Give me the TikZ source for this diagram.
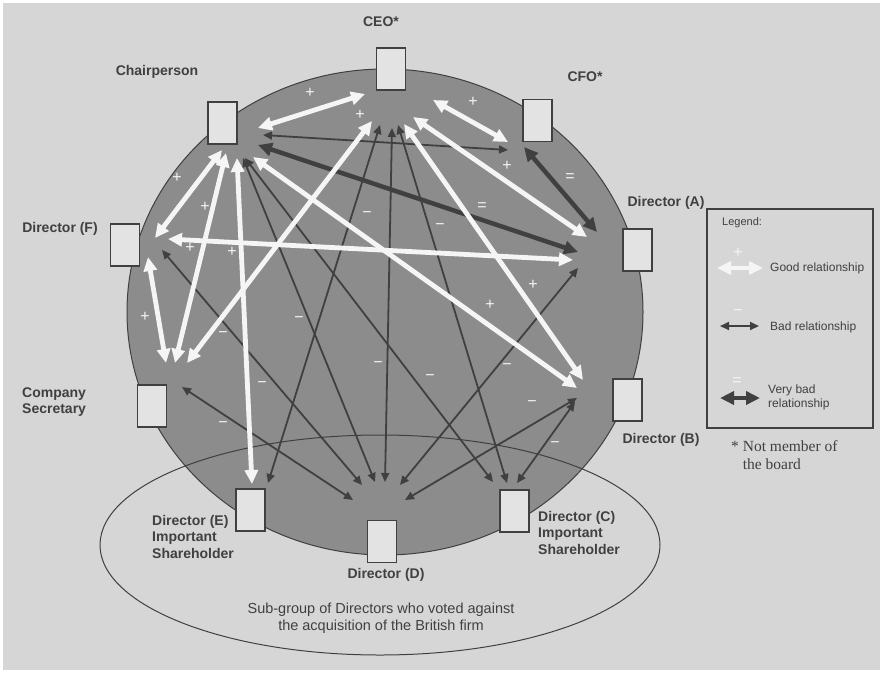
\documentclass[tikz,border=0pt]{standalone}
\usepackage{fontspec}
\setmainfont{Liberation Sans}
\newfontfamily\notefont{Liberation Serif}
\usetikzlibrary{arrows.meta,calc}

\definecolor{paper}{gray}{0.84}
\definecolor{disc}{gray}{0.55}
\definecolor{ink}{gray}{0.25}
\definecolor{cardfill}{gray}{0.89}
\definecolor{goodline}{gray}{0.96}

\begin{document}
\begin{tikzpicture}[x=1pt,y=-1pt,
  member/.style={draw=ink, line width=1.3pt, fill=cardfill, minimum width=29pt, minimum height=42pt, inner sep=0pt},
  role/.style={font=\bfseries\fontsize{14}{16.5}\selectfont, text=ink, align=left, inner sep=0pt},
  good/.style={draw=goodline, line width=4.8pt, {Triangle[length=14pt,width=13pt]}-{Triangle[length=14pt,width=13pt]}},
  bad/.style={draw=ink, line width=1.8pt, {Triangle[length=9pt,width=8pt]}-{Triangle[length=9pt,width=8pt]}},
  worse/.style={draw=ink, line width=4.5pt, {Triangle[length=14pt,width=13pt]}-{Triangle[length=14pt,width=13pt]}},
  sign/.style={text=goodline, font=\fontsize{16}{16}\selectfont, inner sep=0pt},
  legendtext/.style={font=\fontsize{12}{14}\selectfont, text=ink, anchor=west, align=left, inner sep=0pt}
]
% paper and frame
\fill[white] (0,0) rectangle (883,673);
\fill[paper] (3,3) rectangle (880,670);
\useasboundingbox (0,0) rectangle (883,673);

% the board and the dissenting sub-group
\draw[ink, line width=1pt, fill=disc] (385,312) ellipse [x radius=258, y radius=243];
\draw[ink, line width=1pt] (380,545) ellipse [x radius=280, y radius=110];

% members
\node[member] (ceo) at (391,69) {};
\node[member] (chair) at (222.5,123) {};
\node[member] (cfo) at (537.5,120.5) {};
\node[member] (dira) at (637.5,250) {};
\node[member] (dirf) at (125,245) {};
\node[member] (sec) at (152,406) {};
\node[member] (dirb) at (627.5,400) {};
\node[member] (dire) at (250.5,510) {};
\node[member] (dird) at (382,541.5) {};
\node[member] (dirc) at (514.5,511) {};

% meeting points of the relationship arrows
\coordinate (ceoH) at (390,118);
\coordinate (chH) at (250,148);
\coordinate (cfoH) at (510,146);
\coordinate (aH) at (583,250);
\coordinate (fH) at (160,245);
\coordinate (csH) at (178,368);
\coordinate (bH) at (578,392);
\coordinate (eH) at (260,484);
\coordinate (dH) at (380,492);
\coordinate (cH) at (506,484);

% bad relationships
\draw[bad] ($(chH)+(13,-13)$) -- ($(cfoH)+(-2,4)$);
\draw[bad] ($(ceoH)+(-10,7)$) -- ($(eH)+(8,-1)$);
\draw[bad] ($(ceoH)+(2,10)$) -- ($(dH)+(5,-10)$);
\draw[bad] ($(ceoH)+(8,7)$) -- ($(cH)+(1,-1)$);
\draw[bad] ($(chH)+(-7,10)$) -- ($(dH)+(-5,-10)$);
\draw[bad] ($(chH)+(-5,10)$) -- ($(cH)+(-13,-2)$);
\draw[bad] ($(fH)+(2,5)$) -- ($(dH)+(-18,-7)$);
\draw[bad] ($(csH)+(4,19)$) -- ($(dH)+(-27,8)$);
\draw[bad] ($(aH)+(-5,18)$) -- ($(dH)+(20,-7)$);
\draw[bad] ($(bH)+(-1,6)$) -- ($(dH)+(25,8)$);
\draw[bad] ($(bH)+(-3,10)$) -- ($(cH)+(11,-1)$);

% very bad relationships
\draw[worse] ($(chH)+(8,-3)$) -- ($(aH)+(-5,2)$);
\draw[worse] ($(cfoH)+(14,1)$) -- ($(aH)+(14,-18)$);

% good relationships
\draw[good] ($(chH)+(8,-20)$) -- ($(ceoH)+(-25,-24)$);
\draw[good] ($(ceoH)+(43,-18)$) -- ($(cfoH)+(-2,-4)$);
\draw[good] ($(ceoH)+(23,-1)$) -- ($(aH)+(4,-13)$);
\draw[good] ($(ceoH)+(14,6)$) -- ($(bH)+(5,-12)$);
\draw[good] ($(chH)+(3,9)$) -- ($(bH)+(-1,-4)$);
\draw[good] ($(chH)+(-28,2)$) -- ($(fH)+(-5,-7)$);
\draw[good] ($(chH)+(-24,5)$) -- ($(csH)+(-3,-5)$);
\draw[good] ($(chH)+(-13,10)$) -- ($(eH)+(-8,0)$);
\draw[good] ($(fH)+(-12,12)$) -- ($(csH)+(-12,-5)$);
\draw[good] ($(fH)+(8,-6)$) -- ($(aH)+(-10,10)$);
\draw[good] ($(ceoH)+(-18,3)$) -- ($(csH)+(9,-5)$);

% signs on the arrows
\foreach \p in {(310,93),(473,102),(360,115),(177,178),(205,207),(190,248),(232,252),(145,317),(507,166),(533,285),(490,305)}
  \node[sign] at \p {+};
\foreach \p in {(223,335),(262,385),(299,320),(367,215),(378,365),(223,425),(440,227),(430,378),(507,367),(532,404),(555,445)}
  \node[sign] at \p {−};
\foreach \p in {(570,178),(482,207)}
  \node[sign] at \p {=};

% names
\node[role] (tceo) at (381,22) {CEO*};
\node[role] (tchair) at (157,72) {Chairperson};
\node[role] (tcfo) at (585,77) {CFO*};
\node[role] (ta) at (666,203) {Director (A)};
\node[role] (tf) at (60,229) {Director (F)};
\node[role, anchor=west] (tsec) at (22,402) {Company\\Secretary};
\node[role] (tb) at (661,440) {Director (B)};
\node[role, anchor=north west] (te) at (152,515) {Director (E)\\Important\\Shareholder};
\node[role, anchor=north west] (tc) at (538,511) {Director (C)\\Important\\Shareholder};
\node[role] (td) at (386,575) {Director (D)};
\node[font=\fontsize{14.5}{17}\selectfont, text=ink, align=center, inner sep=0pt] (tgroup) at (381,618)
  {Sub-group of Directors who voted against\\the acquisition of the British firm};

% legend
\node[draw=ink, line width=1.2pt, minimum width=166pt, minimum height=219pt, inner sep=0pt] (legend) at (790,318.5) {};
\node[legendtext, font=\fontsize{11}{13}\selectfont] (lhead) at (722,223) {Legend:};
\coordinate (g1) at (717,268); \coordinate (g2) at (763,268);
\coordinate (b1) at (720,326); \coordinate (b2) at (759,326);
\coordinate (v1) at (720,398); \coordinate (v2) at (760,398);
\node[sign] at (738,253) {+};
\draw[good] (g1) -- (g2);
\node[legendtext] (lgood) at (770,268) {Good relationship};
\node[sign] at (738,313) {−};
\draw[bad] (b1) -- (b2);
\node[legendtext] (lbad) at (770,327) {Bad relationship};
\node[sign] at (737,382) {=};
\draw[worse] (v1) -- (v2);
\node[legendtext] (lworse) at (768,397) {Very bad\\relationship};

% footnote
\node[font=\notefont\fontsize{15.5}{18}\selectfont, text=ink, anchor=north west, align=left, inner sep=0pt] (note) at (731,440)
  {* Not member of\\\phantom{* }the board};
\end{tikzpicture}
\end{document}
